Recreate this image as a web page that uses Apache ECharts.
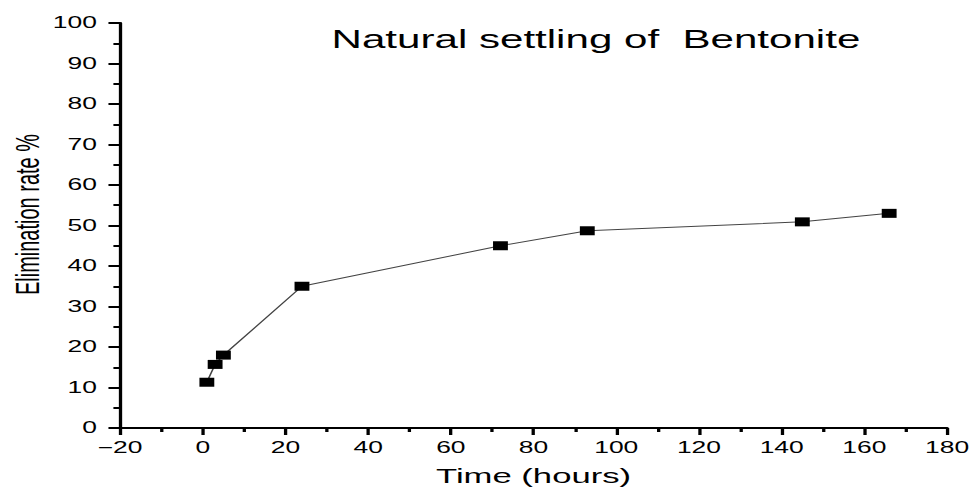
<!DOCTYPE html>
<html>
<head>
<meta charset="utf-8">
<script src="https://cdn.jsdelivr.net/npm/echarts@6/dist/echarts.min.js"></script>
<style>
  html, body { margin: 0; padding: 0; background: #fff; overflow: hidden; }
  /* The plot is laid out on a narrower canvas and widened to fill the page,
     which gives the wide lettering and oblong markers of the original figure. */
  #chart { width: 587px; height: 491px; transform-origin: 0 0; transform: scaleX(1.6508); }
</style>
</head>
<body>
<div id="chart"></div>
<script>
// Settling time (hours) and elimination rate (%)
const timeHours = [1, 3, 5, 24, 72, 93, 145, 166];
const eliminationRate = [11.3, 15.7, 18.0, 35.0, 45.0, 48.7, 50.9, 53.0];

const titleText = 'Natural settling of  Bentonite';
const xName = 'Time (hours)';
const yName = 'Elimination rate %';

const points = timeHours.map((t, i) => [t, eliminationRate[i]]);

const chart = echarts.init(document.getElementById('chart'), null, { renderer: 'svg' });
const FONT = 'Liberation Sans, Arial, Helvetica, sans-serif';
const axisFont = { color: '#000', fontFamily: FONT, fontSize: 16 };
const blackLine = { color: '#000', width: 2 };

chart.setOption({
  backgroundColor: '#fff',
  animation: false,
  title: {
    text: titleText,
    left: 356,
    top: 21,
    textAlign: 'center',
    textStyle: { color: '#000', fontFamily: FONT, fontSize: 25.5, fontWeight: 'normal' }
  },
  grid: { left: 72.7, right: 13.3, top: 23, bottom: 63, containLabel: false, outerBoundsMode: 'none' },
  xAxis: {
    type: 'value',
    min: -20, max: 180, interval: 20,
    name: xName,
    nameLocation: 'middle',
    nameGap: 37,
    nameMoveOverlap: false,
    nameTextStyle: { color: '#000', fontFamily: FONT, fontSize: 21 },
    axisLine: { show: true, onZero: false, lineStyle: blackLine },
    axisTick: { show: true, inside: false, length: 7, lineStyle: blackLine },
    minorTick: { show: true, splitNumber: 2, length: 4, lineStyle: blackLine },
    splitLine: { show: false },
    axisLabel: Object.assign({ margin: 12, formatter: v => String(v).replace('-', '\u2212') }, axisFont)
  },
  yAxis: {
    type: 'value',
    min: 0, max: 100, interval: 10,
    name: yName,
    nameLocation: 'middle',
    nameGap: 46,
    nameMoveOverlap: false,
    nameRotate: 90,
    nameTextStyle: { color: '#000', fontFamily: FONT, fontSize: 20, padding: [0, 0, 0, 22] },
    axisLine: { show: true, onZero: false, lineStyle: blackLine },
    axisTick: { show: true, inside: false, length: 7, lineStyle: blackLine },
    minorTick: { show: true, splitNumber: 2, length: 4, lineStyle: blackLine },
    splitLine: { show: false },
    axisLabel: Object.assign({ margin: 14 }, axisFont)
  },
  series: [{
    type: 'line',
    data: points,
    symbol: 'rect',
    symbolSize: 9,
    itemStyle: { color: '#000' },
    lineStyle: { color: '#444', width: 1 }
  }]
});
</script>
</body>
</html>
